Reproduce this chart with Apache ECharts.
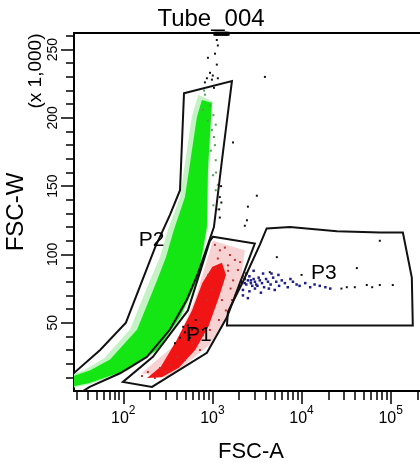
<!DOCTYPE html>
<html><head><meta charset="utf-8">
<script src="https://cdn.jsdelivr.net/npm/echarts@6/dist/echarts.min.js"></script>
<style>html,body{margin:0;padding:0;background:#fff}#c{width:420px;height:468px}</style>
</head><body><div id="c"></div>
<script>
// ---------- texts ----------
const titleText = 'Tube_004';
const xTitle = 'FSC-A';
const yTitle = 'FSC-W';
const yUnit = '(x 1,000)';

// ---------- axes ----------
const xMin = 28, xMax = 262144;
const yMin = 0, yMax = 262.144;
const xMajorTicks = [100, 1000, 10000, 100000];
const xMajorExponents = ['2', '3', '4', '5'];
const xMinorTicks = [30, 40, 50, 60, 70, 80, 90, 200, 300, 400, 500, 600, 700, 800, 900,
  2000, 3000, 4000, 5000, 6000, 7000, 8000, 9000, 20000, 30000, 40000, 50000, 60000, 70000, 80000, 90000, 200000];
const yMajorTicks = [50, 100, 150, 200, 250];
const yMinorTicks = [10, 20, 30, 40, 60, 70, 80, 90, 110, 120, 130, 140, 160, 170, 180, 190, 210, 220, 230, 240, 260];

// ---------- populations (FSC-A, FSC-W x1000) ----------
const greenHalo = [[692,217],[1010,212],[910,162],[885,120],[800,103],[690,81],[445,54],[247,30],[114,15],[43,5],[25,2],
  [25,11.7],[36,15],[61,24],[119,45],[199,81],[258,98],[317,118],[433,142],[589,201]];
const greenCore = [[762,213],[987,211],[891,162],[867,120],[782,103],[670,81],[433,54],[239,30],[110,15.4],[42,5.9],[25,2.9],
  [25,10],[42,15],[71,23],[143,45],[239,81],[301,98],[370,118],[492,142],[670,200.6]];
const pinkHalo = [[160,13],[382,34],[637,67],[1014,110],[2311,103],[2031,76],[1380,52],[937,34],[492,19],[309,10]];
const redCore = [[185,9.5],[265,18],[395,37],[590,59],[770,79],[1000,91],[1279,94],
  [1420,85],[1160,67],[900,47],[640,30],[420,17],[270,10]];

const greenDots = [[824,217],[937,209],[1025,202],[987,191],[1067,180],[1090,169],[1014,158],[1090,147],[1025,136],
  [806,220],[891,198],[1120,133],[1150,151],[1090,195],[788,206],[1040,186],[960,176],[1100,160]];
const redDots = [[1067,107],[1213,103],[1380,105],[1574,99.6],[1788,96],[1150,97],[1494,92],[1933,88.6],[2048,94.4],
  [1706,81],[987,74],[867,66.6],[1933,74],[1656,66.6],[1416,59],[1183,52],[782,41],[334,19],[258,16.8],[189,13.9],
  [162,11],[226,9.5],[492,22.7],[725,30],[937,44.7],[1279,66.6],[1100,90],[1300,80],[1600,75],[900,85],[1000,60],
  [1500,88],[2200,84],[1800,70],[700,50],[300,14],[400,25],[600,35]];
const blueDots = [[2100,80],[2300,82],[2400,78],[2500,81],[2600,84],[2700,79],[2800,77],[2900,82],[3000,80],[3100,78],
  [3300,83],[3400,81],[3600,79],[3800,76],[4000,82],[4200,80],[4500,78],[4800,83],[5200,80],[5600,77],[6000,81],
  [6500,79],[7000,76],[7500,82],[8000,80],[8800,78],[9500,77],[11000,79],[12500,76],[14000,78],[16000,77],[18500,76],
  [21000,75],[2200,74],[2600,73],[3000,75],[3500,72],[2400,86],[2900,88],[3700,86],[4600,86],[5500,85],[2000,77],
  [2200,70],[2500,68],[2300,79],[2700,81],[3200,77],[4300,75],[5000,74]];
const blackDots = [[1120,257],[1150,253],[1070,247],[890,244],[1120,239],[940,233],[1010,231],[867,229],[987,228],
  [1150,229],[824,226],[1040,222],[3880,230],[1700,182],[1210,142],[1260,138],[3150,143],[2500,135],[1210,127],
  [2440,125],[2310,121],[1250,150],[1190,133],[5280,98],[75500,110],[41700,90],[53900,77.6],[75500,77.6],
  [105500,77.6],[32200,76],[39600,76],[10000,85],[4400,87],[28000,75],[62000,76],[531,48],[589,45],[561,39],
  [492,43],[650,52],[617,46],[433,39],[380,35],[470,47]];
const saturatedDots = [[1080,261.6],[1140,261.6],[1200,261.6],[1270,261.6],[1340,261.6],[1410,261.6],[1480,261.6]];

// ---------- gates ----------
const gateP1 = [[1018,113],[2990,108],[1455,54],[867,28],[210,3],[99,6.6],[215,25],[531,59],[937,110]];
const gateP2 = [[480,218],[1656,227],[1280,169],[1040,120],[687,86],[518,67],[334,45],[184,25],[92,13],[42,3],[30,-3],
  [18,6],[28,13.2],[55,30],[107,50],[227,105],[334,129],[433,147]];
const gateP3 = [[4060,119],[7400,120],[24900,117],[75500,116],[137000,116],[172600,83],[177000,48],
  [1455,48],[1494,58],[2200,80],[3400,107]];
const gateNames = ['P1', 'P2', 'P3'];
const gateLabelX = [706, 208, 17800];
const gateLabelY = [41, 110.6, 86];

// ---------- chart ----------
const FONT = '"Liberation Sans", Arial, sans-serif';
function polygonSeries(pts, style, z) {
  return {
    type: 'custom', coordinateSystem: 'cartesian2d', xAxisIndex: 0, yAxisIndex: 0,
    clip: true, silent: true, z: z, data: [[pts[0][0], Math.max(1, pts[0][1])]],
    renderItem: function (params, api) {
      return { type: 'polygon', shape: { points: pts.map(p => api.coord(p)) }, style: style };
    }
  };
}
function dotSeries(data, color, size, z, clip) {
  return { type: 'scatter', data: data, symbol: 'rect', symbolSize: size, z: z, silent: true,
    clip: clip !== false, itemStyle: { color: color, opacity: 1 } };
}
const axisLineStyle = { color: '#000', width: 2 };
const chart = echarts.init(document.getElementById('c'), null, { renderer: 'canvas' });
chart.setOption({
  animation: false,
  backgroundColor: '#fff',
  grid: { left: 74, top: 33, width: 354, bottom: 77, outerBoundsMode: 'none', containLabel: false,
    show: true, borderColor: '#000', borderWidth: 2, backgroundColor: 'transparent' },
  xAxis: [
    { type: 'log', logBase: 10, min: xMin, max: xMax, position: 'bottom',
      axisLine: { lineStyle: axisLineStyle }, splitLine: { show: false },
      axisTick: { customValues: xMinorTicks, length: 9, lineStyle: { color: '#000', width: 1.5 } },
      axisLabel: { show: false } },
    { type: 'log', logBase: 10, min: xMin, max: xMax, position: 'bottom',
      axisLine: { lineStyle: axisLineStyle }, splitLine: { show: false },
      axisTick: { customValues: xMajorTicks, length: 13, lineStyle: { color: '#000', width: 1.5 } },
      axisLabel: { customValues: xMajorTicks, margin: 14, color: '#000',
        formatter: function (v) {
          let best = 0;
          xMajorTicks.forEach((t, i) => { if (Math.abs(Math.log(v / t)) < Math.abs(Math.log(v / xMajorTicks[best]))) best = i; });
          return '{b|10}{s|' + xMajorExponents[best] + '}';
        },
        rich: { b: { fontFamily: FONT, fontSize: 16, color: '#000', verticalAlign: 'bottom' },
                s: { fontFamily: FONT, fontSize: 12, color: '#000', verticalAlign: 'bottom', padding: [0, 0, 10, 0] } } } }
  ],
  yAxis: [
    { type: 'value', min: yMin, max: yMax, position: 'left',
      axisLine: { lineStyle: axisLineStyle }, splitLine: { show: false },
      axisTick: { customValues: yMinorTicks, length: 8, lineStyle: { color: '#000', width: 1.5 } },
      axisLabel: { show: false } },
    { type: 'value', min: yMin, max: yMax, position: 'left',
      axisLine: { lineStyle: axisLineStyle }, splitLine: { show: false },
      axisTick: { customValues: yMajorTicks, length: 13, lineStyle: { color: '#000', width: 1.5 } },
      axisLabel: { customValues: yMajorTicks, rotate: 90, margin: 14, color: '#000', fontFamily: FONT, fontSize: 14 } }
  ],
  graphic: [
    { type: 'text', x: 211, y: 19, style: { text: titleText, font: '24px ' + FONT, fill: '#000', textAlign: 'center', textVerticalAlign: 'middle' } },
    { type: 'text', x: 251, y: 452, style: { text: xTitle, font: '22px ' + FONT, fill: '#000', textAlign: 'center', textVerticalAlign: 'middle' } },
    { type: 'text', x: 16, y: 212, rotation: Math.PI / 2, style: { text: yTitle, font: '24px ' + FONT, fill: '#000', textAlign: 'center', textVerticalAlign: 'middle' } },
    { type: 'text', x: 36, y: 71, rotation: Math.PI / 2, style: { text: yUnit, font: '19px ' + FONT, fill: '#000', textAlign: 'center', textVerticalAlign: 'middle' } }
  ],
  series: [
    polygonSeries(greenHalo, { fill: '#c4f2c4' }, 1),
    polygonSeries(greenCore, { fill: '#14e614' }, 2),
    polygonSeries(pinkHalo, { fill: '#f7d2d2' }, 2),
    polygonSeries(redCore, { fill: '#f01414' }, 3),
    dotSeries(greenDots, '#5a9a5a', 2, 4),
    dotSeries(redDots, '#c43030', 2, 4),
    dotSeries(blueDots, '#1e1e8c', 2.5, 4),
    dotSeries(blackDots, '#111', 2, 4),
    dotSeries(saturatedDots, '#000', 4, 6, false),
    polygonSeries(gateP1, { fill: null, stroke: '#111', lineWidth: 2 }, 5),
    polygonSeries(gateP2, { fill: null, stroke: '#111', lineWidth: 2 }, 5),
    polygonSeries(gateP3, { fill: null, stroke: '#111', lineWidth: 2 }, 5),
    { type: 'scatter', symbolSize: 0, silent: true, z: 7, itemStyle: { opacity: 1, color: '#000' },
      data: gateNames.map((n, i) => ({ name: n, value: [gateLabelX[i], gateLabelY[i]] })),
      label: { show: true, position: 'inside', formatter: '{b}', fontFamily: FONT, fontSize: 21, color: '#000',
        opacity: 1, textBorderWidth: 0 } }
  ]
});
</script></body></html>
